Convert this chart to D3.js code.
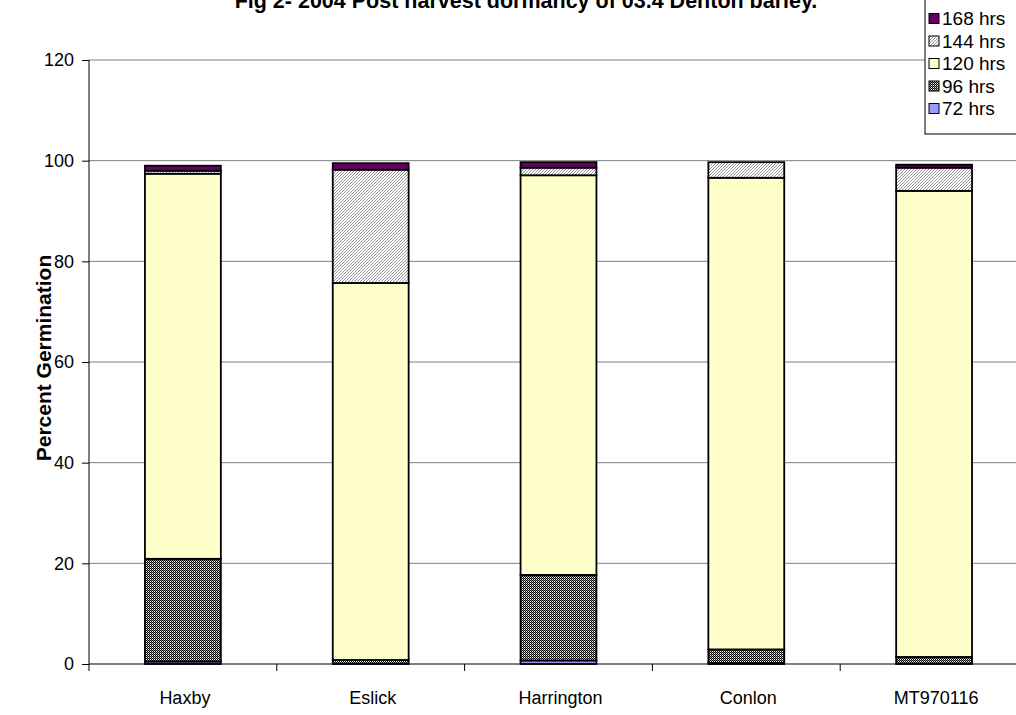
<!DOCTYPE html>
<html>
<head>
  <meta charset="utf-8" />
  <script src="https://cdn.jsdelivr.net/npm/d3@7"></script>
  <style>
    body { margin: 0; background: #fff; }
    svg { display: block; font-family: "Liberation Sans", Arial, sans-serif; }
    .grid line { stroke: #808080; stroke-width: 1px; }
    .bar rect { stroke: #000; stroke-width: 1.8px; }
  </style>
</head>
<body>
<script>
  "use strict";

  var categories = ["Haxby", "Eslick", "Harrington", "Conlon", "MT970116"];
  var seriesNames = ["72 hrs", "96 hrs", "120 hrs", "144 hrs", "168 hrs"];
  var hrs72 = [0.5, 0, 0.7, 0.2, 0];
  var hrs96 = [20.4, 0.8, 17.0, 2.7, 1.4];
  var hrs120 = [76.5, 74.9, 79.4, 93.7, 92.6];
  var hrs144 = [0.6, 22.5, 1.5, 3.1, 4.6];
  var hrs168 = [1.0, 1.3, 1.1, 0, 0.6];
  var yTicks = [0, 20, 40, 60, 80, 100, 120];

  var width = 1016, height = 715;
  var plotLeft = 89, plotRight = 1028, plotTop = 60, plotBottom = 664;

  // build rows for d3.stack
  var rows = categories.map(function(c, i) {
    return {
      cat: c,
      "72 hrs": hrs72[i],
      "96 hrs": hrs96[i],
      "120 hrs": hrs120[i],
      "144 hrs": hrs144[i],
      "168 hrs": hrs168[i]
    };
  });

  var svg = d3.select("body").append("svg")
    .attr("width", width)
    .attr("height", height);

  var defs = svg.append("defs");

  // 96 hrs: dark checker
  var p96 = defs.append("pattern").attr("id", "p96")
    .attr("patternUnits", "userSpaceOnUse").attr("width", 2).attr("height", 2);
  p96.append("rect").attr("width", 2).attr("height", 2).attr("fill", "#fff");
  p96.append("rect").attr("width", 1).attr("height", 1).attr("fill", "#000");
  p96.append("rect").attr("x", 1).attr("y", 1).attr("width", 1).attr("height", 1).attr("fill", "#000");
  p96.append("rect").attr("x", 1).attr("y", 0).attr("width", 1).attr("height", 1).attr("fill", "#888");

  // 144 hrs: diagonal hatch
  var p144 = defs.append("pattern").attr("id", "p144")
    .attr("patternUnits", "userSpaceOnUse").attr("width", 3).attr("height", 3);
  p144.append("rect").attr("width", 3).attr("height", 3).attr("fill", "#fff");
  p144.append("path").attr("d", "M-1,1 L1,-1 M0,3 L3,0 M2,4 L4,2")
    .attr("stroke", "#777").attr("stroke-width", 0.8);

  var fills = {
    "72 hrs": "#9999ff",
    "96 hrs": "url(#p96)",
    "120 hrs": "#ffffcc",
    "144 hrs": "url(#p144)",
    "168 hrs": "#660066"
  };

  var x = d3.scaleBand()
    .domain(categories)
    .range([plotLeft, plotRight])
    .paddingInner(0.596)
    .paddingOuter(0.298);

  var y = d3.scaleLinear().domain([0, 120]).range([plotBottom, plotTop]);

  // gridlines
  svg.append("g").attr("class", "grid")
    .selectAll("line")
    .data(yTicks.slice(1))
    .join("line")
    .attr("x1", plotLeft).attr("x2", plotRight)
    .attr("y1", function(d) { return y(d); })
    .attr("y2", function(d) { return y(d); });

  // bars
  var stacked = d3.stack().keys(seriesNames)(rows);

  svg.selectAll("g.bar")
    .data(stacked)
    .join("g")
    .attr("class", "bar")
    .attr("fill", function(d) { return fills[d.key]; })
    .selectAll("rect")
    .data(function(d) { return d.filter(function(p) { return p[1] - p[0] > 0; }); })
    .join("rect")
    .attr("x", function(d) { return x(d.data.cat); })
    .attr("width", x.bandwidth())
    .attr("y", function(d) { return y(d[1]); })
    .attr("height", function(d) { return y(d[0]) - y(d[1]); });

  // y axis
  var yAxis = svg.append("g")
    .attr("transform", "translate(" + plotLeft + ",0)")
    .call(d3.axisLeft(y).tickValues(yTicks).tickSize(7).tickPadding(8));
  yAxis.select(".domain").attr("stroke", "#000").attr("d", "M0," + plotBottom + "V" + plotTop);
  yAxis.selectAll(".tick line").attr("stroke", "#000");
  yAxis.selectAll("text").attr("font-size", 18).attr("font-family", "Liberation Sans, Arial, sans-serif").attr("fill", "#000");

  // x axis
  var step = x.step();
  var xg = svg.append("g");
  xg.append("line")
    .attr("x1", plotLeft).attr("x2", plotRight)
    .attr("y1", plotBottom).attr("y2", plotBottom)
    .attr("stroke", "#000");
  xg.selectAll("line.tk")
    .data(categories)
    .join("line")
    .attr("class", "tk")
    .attr("x1", function(d) { return x(d) - (step - x.bandwidth()) / 2; })
    .attr("x2", function(d) { return x(d) - (step - x.bandwidth()) / 2; })
    .attr("y1", plotBottom).attr("y2", plotBottom + 7)
    .attr("stroke", "#000");
  xg.selectAll("text")
    .data(categories)
    .join("text")
    .attr("x", function(d) { return x(d) + x.bandwidth() / 2 + 2; })
    .attr("y", 704)
    .attr("text-anchor", "middle")
    .attr("font-size", 18)
    .text(function(d) { return d; });

  // y title
  svg.append("text")
    .attr("transform", "translate(51,358) rotate(-90)")
    .attr("text-anchor", "middle")
    .attr("font-size", 21)
    .attr("font-weight", "bold")
    .text("Percent Germination");

  // title (cut off at top)
  svg.append("text")
    .attr("x", 526)
    .attr("y", 8)
    .attr("text-anchor", "middle")
    .attr("font-size", 21.5)
    .attr("font-weight", "bold")
    .text("Fig 2- 2004 Post harvest dormancy of 03.4 Denton barley.");

  // legend
  var lg = svg.append("g").attr("transform", "translate(925,-6)");
  lg.append("rect")
    .attr("width", 110).attr("height", 140)
    .attr("fill", "#fff").attr("stroke", "#000");
  var items = lg.selectAll("g.item")
    .data(seriesNames.slice().reverse())
    .join("g")
    .attr("class", "item")
    .attr("transform", function(d, i) { return "translate(4," + (24.5 + i * 22.5) + ")"; });
  items.append("rect")
    .attr("y", -5).attr("width", 10).attr("height", 10)
    .attr("fill", function(d) { return fills[d]; })
    .attr("stroke", "#000");
  items.append("text")
    .attr("x", 13).attr("y", 6.5)
    .attr("font-size", 19)
    .text(function(d) { return d; });
</script>
</body>
</html>
